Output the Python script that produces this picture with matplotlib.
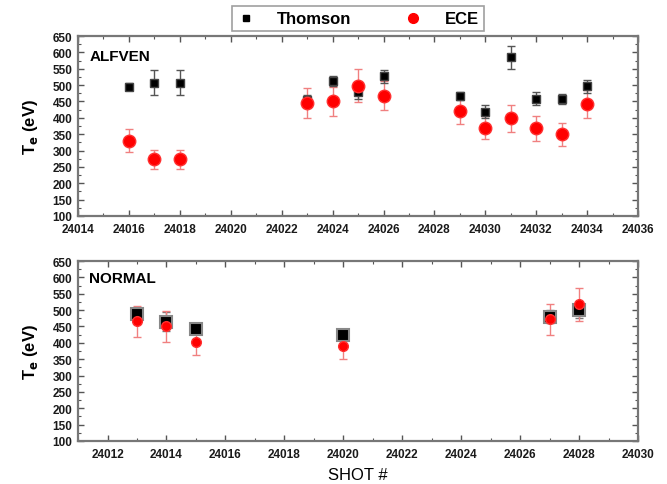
import matplotlib.pyplot as plt
from matplotlib.ticker import MultipleLocator
from matplotlib.lines import Line2D

plt.rcParams['font.family'] = ['Liberation Sans', 'DejaVu Sans']

# ALFVEN shots (top panel)
alf_shot = [24016, 24017, 24018, 24023, 24024, 24025, 24026, 24029, 24030, 24031, 24032, 24033, 24034]
alf_thomson = [495, 508, 508, 455, 512, 478, 527, 468, 418, 585, 458, 457, 497]
alf_thomson_err = [10, 38, 38, 15, 15, 20, 20, 12, 20, 35, 20, 15, 20]
alf_ece = [330, 273, 273, 445, 450, 498, 468, 422, 370, 398, 368, 350, 442]
alf_ece_err = [35, 30, 30, 45, 45, 50, 45, 42, 35, 40, 38, 35, 42]

# NORMAL shots (bottom panel)
nor_shot = [24013, 24014, 24015, 24020, 24027, 24028]
nor_thomson = [487, 465, 442, 425, 480, 500]
nor_thomson_err = [20, 30, 15, 10, 20, 25]
nor_ece = [466, 450, 402, 390, 472, 518]
nor_ece_err = [48, 47, 40, 38, 48, 50]

fig = plt.figure(figsize=(6.67, 4.85), dpi=100)
ax1 = fig.add_axes([0.117, 0.5526, 0.8396, 0.371])
ax2 = fig.add_axes([0.117, 0.0887, 0.8396, 0.371])


def style_axes(ax, xlim, label, label_y):
    ax.set_xlim(xlim)
    ax.set_ylim(100, 650)
    ax.xaxis.set_major_locator(MultipleLocator(2))
    ax.xaxis.set_minor_locator(MultipleLocator(1))
    ax.yaxis.set_major_locator(MultipleLocator(50))
    ax.yaxis.set_minor_locator(MultipleLocator(25))
    ax.tick_params(which='both', direction='in', top=True, right=True, color='#555555')
    ax.tick_params(which='major', length=4, width=1, labelsize=8.5)
    ax.tick_params(axis='x', which='major', pad=5)
    ax.tick_params(axis='y', which='major', pad=4)
    ax.tick_params(which='minor', length=2, width=0.8)
    ax.xaxis.get_major_formatter().set_useOffset(False)
    for t in ax.get_xticklabels() + ax.get_yticklabels():
        t.set_fontweight('bold')
        t.set_color('#1a1a1a')
    for s in ax.spines.values():
        s.set_color('#777777')
        s.set_linewidth(1.6)
    ax.set_ylabel('T$_\\mathbf{e}$ (eV)', fontsize=12, fontweight='bold', labelpad=9)
    ax.text(0.02, label_y, label, transform=ax.transAxes, fontsize=11, fontweight='bold', va='center')


# top panel
ax1.errorbar(alf_shot, alf_ece, yerr=alf_ece_err, fmt='none', ecolor='#f08080', elinewidth=1, capsize=3, zorder=2)
ax1.errorbar(alf_shot, alf_thomson, yerr=alf_thomson_err, fmt='none', ecolor='#555555', elinewidth=1, capsize=3, zorder=2)
ax1.plot(alf_shot, alf_thomson, 's', color='black', markersize=6, markeredgecolor='#444444', linestyle='none', zorder=3)
ax1.plot(alf_shot, alf_ece, 'o', color='red', markersize=9, markeredgecolor='#ff3030', linestyle='none', zorder=4)
style_axes(ax1, (24014, 24036), 'ALFVEN', 0.89)

# bottom panel
ax2.errorbar(nor_shot, nor_thomson, yerr=nor_thomson_err, fmt='none', ecolor='#777777', elinewidth=1, capsize=3, zorder=2)
ax2.errorbar(nor_shot, nor_ece, yerr=nor_ece_err, fmt='none', ecolor='#f08080', elinewidth=1, capsize=3, zorder=2)
ax2.plot(nor_shot, nor_thomson, 's', color='black', markersize=8, markeredgecolor='#888888', markeredgewidth=1.5, linestyle='none', zorder=3)
ax2.plot(nor_shot, nor_ece, 'o', color='red', markersize=7, markeredgecolor='#ff3030', linestyle='none', zorder=4)
style_axes(ax2, (24011, 24030), 'NORMAL', 0.905)
ax2.set_xlabel('SHOT #', fontsize=12, labelpad=5)

# legend box at top
handles = [Line2D([], [], marker='s', color='black', markersize=4, linestyle='none'),
           Line2D([], [], marker='o', color='red', markersize=7, linestyle='none')]
leg = fig.legend(handles, ['Thomson', 'ECE'], loc='center', bbox_to_anchor=(0.537, 0.959), ncol=2,
                 frameon=True, fancybox=False, handlelength=1.0, handletextpad=1.4, columnspacing=3.2,
                 borderpad=0.3, borderaxespad=0, prop={'weight': 'bold', 'size': 12})
leg.get_frame().set_edgecolor('#888888')
leg.get_frame().set_linewidth(1.2)

fig.savefig('out.png', dpi=100)
